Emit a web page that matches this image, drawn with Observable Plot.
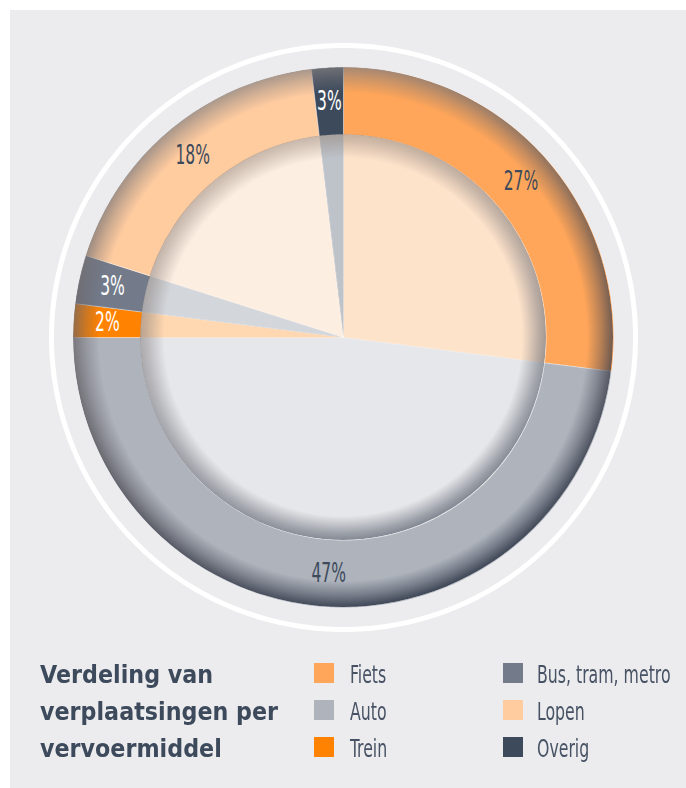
<!DOCTYPE html>
<html>
<head>
<meta charset="utf-8">
<script src="https://cdn.jsdelivr.net/npm/d3@7"></script>
<script src="https://cdn.jsdelivr.net/npm/@observablehq/plot@0.6"></script>
<style>
  html, body { margin: 0; padding: 0; background: #ffffff; }
  #wrap { position: relative; width: 686px; height: 788px; overflow: hidden; }
  #panel { position: absolute; left: 10px; top: 10px; width: 676px; height: 778px; background: #ECECEE; }
  #chart { position: absolute; left: 0; top: 0; }
  .title { position: absolute; left: 40px; top: 656px; font-family: "DejaVu Sans", sans-serif; font-weight: bold;
           font-size: 25px; line-height: 37px; color: #3D4A5C; transform: scaleX(0.89); transform-origin: left top; white-space: nowrap; }
  .sw { position: absolute; width: 20px; height: 20px; }
  .lab { position: absolute; font-family: "DejaVu Sans Condensed", "DejaVu Sans", sans-serif;
         font-size: 25px; line-height: 37px; color: #475264; transform: scaleX(0.70); transform-origin: left top; white-space: nowrap; }
</style>
</head>
<body>
<div id="wrap">
  <div id="panel"></div>
  <div id="chart"></div>
  <div class="title">Verdeling van<br>verplaatsingen per<br>vervoermiddel</div>
  <div id="legend"></div>
</div>
<script>
// ---- data ----
const categories  = ["Fiets", "Auto", "Trein", "Bus, tram, metro", "Lopen", "Overig"];
const shares      = [27.0, 48.0, 2.0, 2.9, 18.2, 1.9];           // slice sizes (%)
const labels      = ["27%", "47%", "2%", "3%", "18%", "3%"];       // printed labels
const colors      = ["#FFA65A", "#AEB3BC", "#FF8200", "#737B8B", "#FFCCA0", "#3D4A5C"];
const tints       = ["#FEE3CB", "#E6E7EA", "#FFD7B0", "#D3D6DB", "#FDEEE2", "#BEC3CA"];
const labelColors = ["#3D4A5C", "#3D4A5C", "#FFFFFF", "#FFFFFF", "#3D4A5C", "#FFFFFF"];

// ---- geometry (data units: outer radius = 1) ----
const R_OUT = 1, R_IN = 203 / 270, R_LAB = 0.876, R_RING = 292 / 270;
const W = 686, H = 650, CX = 343, CY = 337, PX = 270;

const total = d3.sum(shares);
let acc = 0;
const slices = categories.map((c, i) => {
  const a0 = acc / total * 2 * Math.PI; acc += shares[i];
  const a1 = acc / total * 2 * Math.PI;
  return {c, i, a0, a1, mid: (a0 + a1) / 2};
});
const pt = (r, a) => ({x: r * Math.sin(a), y: r * Math.cos(a)});
function arcPts(r, a0, a1) {
  const n = Math.max(2, Math.ceil(Math.abs(a1 - a0) / (Math.PI / 360)));
  return d3.range(n + 1).map(k => pt(r, a0 + (a1 - a0) * k / n));
}
const outerPts = slices.flatMap(s => [pt(0, 0), ...arcPts(R_OUT, s.a0, s.a1)].map(p => ({...p, key: s.c, color: colors[s.i]})));
const innerPts = slices.flatMap(s => [pt(0, 0), ...arcPts(R_IN, s.a0, s.a1)].map(p => ({...p, key: s.c, color: tints[s.i]})));
const ringPts = arcPts(R_RING, 0, 2 * Math.PI);

// ---- shading overlays (styling) ----
function shading(index, scales) {
  const cx = scales.x(0), cy = scales.y(0);
  const ro = scales.x(R_OUT) - cx, ri = scales.x(R_IN) - cx;
  const g = d3.create("svg:g");
  const defs = g.append("defs");
  function radialMask(id, r, stops) {
    const gr = defs.append("radialGradient").attr("id", id + "g").attr("gradientUnits", "userSpaceOnUse")
      .attr("cx", cx).attr("cy", cy).attr("r", r);
    stops.forEach(([o, op]) => gr.append("stop").attr("offset", o).attr("stop-color", "white").attr("stop-opacity", op));
    const m = defs.append("mask").attr("id", id).attr("maskUnits", "userSpaceOnUse")
      .attr("x", 0).attr("y", 0).attr("width", W).attr("height", H);
    m.append("circle").attr("cx", cx).attr("cy", cy).attr("r", r).attr("fill", `url(#${id}g)`);
  }
  function linear(id, stops) {
    const lg = defs.append("linearGradient").attr("id", id).attr("x1", 0.3).attr("y1", 0).attr("x2", 0.7).attr("y2", 1);
    stops.forEach(([o, c, op]) => lg.append("stop").attr("offset", o).attr("stop-color", c).attr("stop-opacity", op));
  }
  radialMask("rimMask", ro, [[(ro - 26) / ro, 0], [(ro - 12) / ro, 0.5], [1, 1]]);
  linear("rimCol", [[0, "rgb(140,135,135)", 0.72], [0.5, "rgb(80,76,82)", 0.7], [1, "rgb(40,50,68)", 0.88]]);
  radialMask("discMask", ri, [[(ri - 24) / ri, 0], [(ri - 7) / ri, 0.75], [1, 1]]);
  linear("discCol", [[0, "rgb(150,130,115)", 0.5], [0.5, "rgb(110,110,118)", 0.55], [1, "rgb(70,80,95)", 0.65]]);
  g.append("circle").attr("cx", cx).attr("cy", cy).attr("r", ro).attr("fill", "url(#rimCol)").attr("mask", "url(#rimMask)");
  g.append("circle").attr("cx", cx).attr("cy", cy).attr("r", ri).attr("fill", "url(#discCol)").attr("mask", "url(#discMask)");
  return g.node();
}

const chart = Plot.plot({
  width: W, height: H, margin: 0,
  style: {background: "transparent", overflow: "visible"},
  x: {domain: [-CX / PX, (W - CX) / PX], axis: null},
  y: {domain: [-(H - CY) / PX, CY / PX], axis: null},
  color: {type: "identity"},
  marks: [
    Plot.line(outerPts, {x: "x", y: "y", z: "key", fill: "color", stroke: null, curve: "linear-closed"}),
    Plot.line(innerPts, {x: "x", y: "y", z: "key", fill: "color", stroke: null, curve: "linear-closed"}),
    Plot.link(slices, {x1: 0, y1: 0, x2: s => pt(R_OUT, s.a0).x, y2: s => pt(R_OUT, s.a0).y,
                       stroke: "white", strokeOpacity: 0.55, strokeWidth: 0.8}),
    shading,
    Plot.line(ringPts, {x: "x", y: "y", stroke: "white", strokeWidth: 5, curve: "linear-closed"}),
    Plot.text(slices, {x: s => pt(R_LAB, s.mid).x, y: s => pt(R_LAB, s.mid).y, text: s => labels[s.i],
                       fill: s => labelColors[s.i], fontSize: 27,
                       fontFamily: "'DejaVu Sans Condensed', 'DejaVu Sans', sans-serif",
                       className: "pct"})
  ]
});

// horizontally condense percentage labels (styling only)
d3.select(chart).selectAll("g.pct text").each(function () {
  const t = d3.select(this);
  t.attr("transform", ((t.attr("transform") || "") + " scale(0.64,1)").trim());
});
document.getElementById("chart").append(chart);

// ---- legend ----
const legend = document.getElementById("legend");
categories.forEach((c, i) => {
  const col = Math.floor(i / 3), row = i % 3;
  const sw = document.createElement("div");
  sw.className = "sw";
  sw.style.left = (314 + col * 189) + "px";
  sw.style.top = (663 + row * 37) + "px";
  sw.style.background = colors[i];
  legend.append(sw);
  const lab = document.createElement("div");
  lab.className = "lab";
  lab.style.left = (350 + col * 187) + "px";
  lab.style.top = (656 + row * 37) + "px";
  lab.textContent = c;
  legend.append(lab);
});
</script>
</body>
</html>
